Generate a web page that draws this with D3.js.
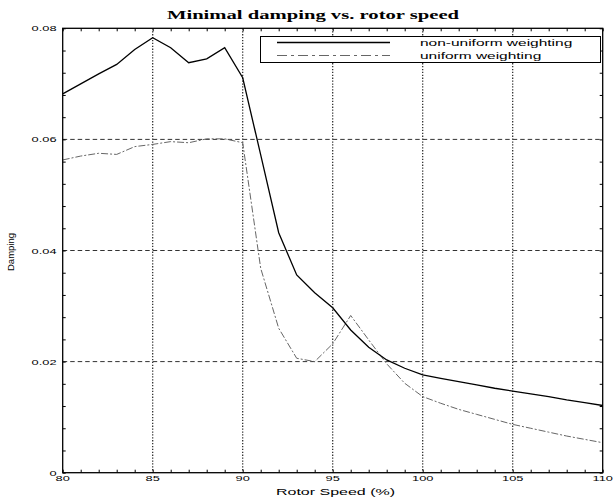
<!DOCTYPE html>
<html>
<head>
<meta charset="utf-8">
<script src="https://cdn.jsdelivr.net/npm/d3@7"></script>
<style>
  body { margin: 0; background: #fff; }
  svg { display: block; }
</style>
</head>
<body>
<div id="chart"></div>
<script>
var speeds = [80, 81, 82, 83, 84, 85, 86, 87, 88, 89, 90, 91, 92, 93, 94, 95, 96, 97, 98, 99, 100,
  101, 102, 103, 104, 105, 106, 107, 108, 109, 110];

var nonUniform = [0.0682, 0.0700, 0.0718, 0.0735, 0.0762, 0.0783, 0.0765, 0.0738, 0.0745, 0.0765, 0.0711,
  0.0572, 0.0432, 0.0356, 0.0324, 0.0297, 0.0257, 0.0226, 0.0203, 0.0188, 0.0176,
  0.0170, 0.0164, 0.0158, 0.0152, 0.0147, 0.0142, 0.0137, 0.0131, 0.0126, 0.0121];

var uniform = [0.0563, 0.0570, 0.0575, 0.0573, 0.0587, 0.0591, 0.0596, 0.0594, 0.0601, 0.0601, 0.0594,
  0.0368, 0.0260, 0.0206, 0.0200, 0.0232, 0.0283, 0.0239, 0.0196, 0.0161, 0.0137,
  0.0125, 0.0114, 0.0105, 0.0096, 0.0087, 0.0080, 0.0073, 0.0066, 0.0060, 0.0054];

var xTicks = [80, 85, 90, 95, 100, 105, 110];
var yTicks = [0, 0.02, 0.04, 0.06, 0.08];
var yTickLabels = ['0', '0.02', '0.04', '0.06', '0.08'];
var seriesNames = ['non-uniform weighting', 'uniform weighting'];

var width = 615;
var height = 500;
// plot box (window.top is reserved, so no "top" here)
var plotLeft = 62.7, plotRight = 602.7, plotTop = 28.3, plotBottom = 472.7;
var stretch = 1.72;

var x = d3.scaleLinear().domain([80, 110]).range([plotLeft, plotRight]);
var y = d3.scaleLinear().domain([0, 0.08]).range([plotBottom, plotTop]);

var svg = d3.select('#chart')
  .append('svg')
  .attr('width', width)
  .attr('height', height);

// stretched text, the picture is wide
function label(g, tx, ty, str, size, anchor, family, weight, sx) {
  return g.append('text')
    .attr('transform', 'translate(' + tx + ',' + ty + ') scale(' + sx + ',1)')
    .attr('text-anchor', anchor)
    .attr('font-family', family)
    .attr('font-size', size)
    .attr('font-weight', weight)
    .attr('fill', '#000')
    .text(str);
}

// grid
svg.append('g')
  .selectAll('line')
  .data(xTicks.slice(1, -1))
  .enter()
  .append('line')
  .attr('x1', function(d) { return x(d); })
  .attr('x2', function(d) { return x(d); })
  .attr('y1', plotTop)
  .attr('y2', plotBottom)
  .attr('stroke', '#222')
  .attr('stroke-width', 1.2)
  .attr('stroke-dasharray', '1.3,1.6');

svg.append('g')
  .selectAll('line')
  .data(yTicks.slice(1, -1))
  .enter()
  .append('line')
  .attr('x1', plotLeft)
  .attr('x2', plotRight)
  .attr('y1', function(d) { return y(d); })
  .attr('y2', function(d) { return y(d); })
  .attr('stroke', '#333')
  .attr('stroke-width', 1)
  .attr('stroke-dasharray', '4.5,3');

// minor ticks on all four sides, pointing in
var xMinor = d3.range(80, 111, 1);
var yMinor = d3.range(0, 0.0801, 0.004);

svg.append('g')
  .attr('transform', 'translate(0,' + plotBottom + ')')
  .call(d3.axisBottom(x).tickValues(xMinor).tickSize(-3).tickFormat(''));
svg.append('g')
  .attr('transform', 'translate(0,' + plotTop + ')')
  .call(d3.axisTop(x).tickValues(xMinor).tickSize(-3).tickFormat(''));
svg.append('g')
  .attr('transform', 'translate(' + plotLeft + ',0)')
  .call(d3.axisLeft(y).tickValues(yMinor).tickSize(-3).tickFormat(''));
svg.append('g')
  .attr('transform', 'translate(' + plotRight + ',0)')
  .call(d3.axisRight(y).tickValues(yMinor).tickSize(-3).tickFormat(''));

svg.selectAll('.domain').remove();
svg.selectAll('.tick line').attr('stroke', '#000').attr('stroke-width', 1);

// lines
var line = d3.line()
  .x(function(d) { return x(d[0]); })
  .y(function(d) { return y(d[1]); });

svg.append('path')
  .datum(d3.zip(speeds, uniform))
  .attr('d', line)
  .attr('fill', 'none')
  .attr('stroke', '#666')
  .attr('stroke-width', 1)
  .attr('stroke-dasharray', '7,2,2,2');

svg.append('path')
  .datum(d3.zip(speeds, nonUniform))
  .attr('d', line)
  .attr('fill', 'none')
  .attr('stroke', '#000')
  .attr('stroke-width', 1.3);

// frame
svg.append('rect')
  .attr('x', plotLeft)
  .attr('y', plotTop)
  .attr('width', plotRight - plotLeft)
  .attr('height', plotBottom - plotTop)
  .attr('fill', 'none')
  .attr('stroke', '#000')
  .attr('stroke-width', 1.3);

// tick labels
var labels = svg.append('g');
xTicks.forEach(function(d) {
  label(labels, x(d), 481, String(d), 8, 'middle', 'Liberation Sans, Arial, sans-serif', 'normal', 1.6);
});
yTicks.forEach(function(d, i) {
  label(labels, 56.5, y(d) + 3, yTickLabels[i], 8, 'end', 'Liberation Sans, Arial, sans-serif', 'normal', 1.6);
});

// titles
label(svg, 313, 19, 'Minimal damping vs. rotor speed', 12, 'middle', 'Liberation Serif, Times New Roman, serif', 'bold', stretch);
label(svg, 335.5, 495, 'Rotor Speed (%)', 9.3, 'middle', 'Liberation Sans, Arial, sans-serif', 'normal', stretch);

svg.append('text')
  .attr('transform', 'translate(14,252) rotate(-90)')
  .attr('text-anchor', 'middle')
  .attr('font-family', 'Liberation Sans, Arial, sans-serif')
  .attr('font-size', 9.5)
  .text('Damping');

// legend
var legend = svg.append('g');
legend.append('rect')
  .attr('x', 260.5)
  .attr('y', 36.5)
  .attr('width', 340)
  .attr('height', 26)
  .attr('fill', '#fff')
  .attr('stroke', '#000')
  .attr('stroke-width', 1);

var legendStyles = [
  { stroke: '#000', width: 1.3, dash: null },
  { stroke: '#666', width: 1, dash: '10,4,3,4' }
];

seriesNames.forEach(function(name, i) {
  var ly = 42.5 + i * 13;
  legend.append('line')
    .attr('x1', 277)
    .attr('x2', 390)
    .attr('y1', ly)
    .attr('y2', ly)
    .attr('stroke', legendStyles[i].stroke)
    .attr('stroke-width', legendStyles[i].width)
    .attr('stroke-dasharray', legendStyles[i].dash);
  label(legend, 420, ly + 3.2, name, 9, 'start', 'Liberation Sans, Arial, sans-serif', 'normal', stretch);
});
</script>
</body>
</html>
